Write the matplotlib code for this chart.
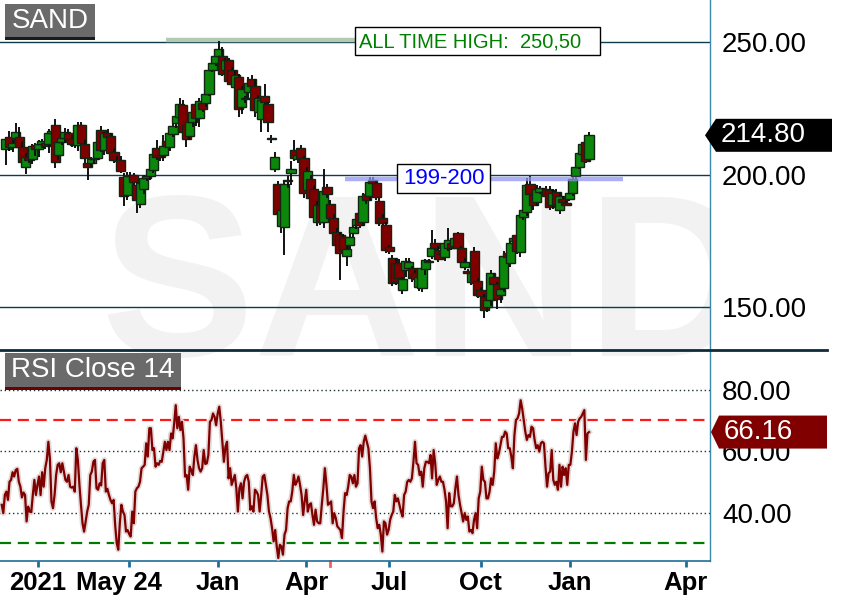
import numpy as np
import matplotlib.pyplot as plt
import matplotlib.patheffects as pe
from matplotlib.patches import Rectangle, Polygon
from matplotlib.lines import Line2D
import matplotlib.transforms as mtransforms

plt.rcParams['font.family'] = ['Liberation Sans', 'DejaVu Sans']

# candle data
opens = [
    209.6, 214.2, 210.4, 213.8, 214.2, 210.4, 202.8, 206.6, 206.0, 211.0,
    209.5, 211.7, 211.9, 211.5, 215.7, 218.7, 207.4, 212.3, 213.8, 215.5,
    213.5, 211.5, 211.1, 218.7, 211.5, 204.3, 204.5, 205.8, 206.2, 216.8,
    209.2, 215.7, 214.5, 208.5, 205.5, 205.5, 199.1, 192.3, 199.5, 200.0,
    196.0, 189.0, 194.5, 198.7, 199.4, 201.7,
    210.0, 207.2, 207.4, 212.6, 210.4, 215.3, 219.4, 221.7, 226.2, 218.7,
    214.5, 219.8, 226.6, 221.3, 227.0, 227.0, 230.4, 239.4, 242.1, 244.7,
    244.7, 239.4, 243.2, 239.4, 233.0, 236.8, 225.5, 228.5, 231.1, 236.0,
    233.4, 223.6, 220.9, 229.6, 226.6, 213.4, 202.1, 196.4, 180.6, 180.2,
    197.5, 200.5,
    209.2, 205.8, 210.0, 206.2, 194.2, 198.3, 194.5, 182.1, 188.5, 182.1,
    195.3, 188.9, 183.6, 178.3, 177.2, 176.4, 169.2, 173.4, 177.9, 180.9,
    185.5, 182.1, 192.6, 191.9, 197.9, 196.8, 190.0, 183.6, 180.9, 172.6,
    168.5, 166.6, 166.6, 156.4, 164.0, 164.7, 164.7, 162.8, 157.5, 157.2,
    164.3, 167.4, 169.2, 174.2, 171.5, 170.0, 168.9, 172.3, 174.2, 173.0,
    177.9, 172.3, 165.1, 163.5, 159.4, 171.1, 159.8, 156.4, 153.8, 150.0,
    152.6, 161.3, 158.7, 154.5, 157.2, 170.4, 166.6, 174.9, 177.2, 170.8,
    184.0, 185.8, 196.4, 192.6, 189.6, 193.4, 193.5, 194.5, 194.2, 188.5,
    193.4, 186.6, 190.8, 189.2, 190.8, 193.0, 199.4, 202.8, 207.7, 212.3,
    205.8,
]
highs = [
    214.0, 216.5, 213.0, 219.5, 218.0, 212.5, 208.0, 208.5, 211.5, 212.0,
    213.0, 213.5, 214.0, 217.0, 218.0, 220.9, 213.0, 214.5, 217.5, 217.0,
    215.0, 213.0, 219.8, 220.0, 213.0, 205.5, 206.5, 207.5, 213.0, 218.5,
    216.0, 217.0, 215.5, 210.0, 207.0, 207.0, 200.5, 201.0, 201.0, 200.5,
    197.0, 197.0, 200.0, 200.5, 203.0, 209.0,
    213.0, 209.0, 214.9, 214.0, 217.0, 219.5, 223.0, 228.9, 228.0, 220.0,
    221.0, 225.0, 227.5, 229.0, 228.0, 231.0, 240.5, 242.5, 245.5, 250.5,
    248.0, 244.0, 244.0, 240.5, 239.0, 238.0, 233.5, 229.5, 236.8, 237.5,
    236.0, 230.0, 229.0, 234.2, 227.5, 215.0, 208.5, 197.5, 188.0, 198.0,
    199.5, 205.0,
    213.0, 208.5, 211.0, 207.0, 203.0, 200.0, 196.0, 190.0, 189.5, 202.0,
    196.5, 190.5, 185.0, 180.0, 178.5, 177.5, 173.0, 177.5, 181.5, 185.0,
    187.0, 193.0, 193.5, 199.2, 199.1, 198.0, 191.0, 185.0, 182.0, 173.5,
    169.5, 168.0, 168.0, 161.5, 168.5, 168.5, 165.5, 164.0, 162.0, 165.5,
    168.0, 168.0, 179.0, 175.5, 173.0, 171.5, 175.0, 179.8, 175.5, 177.5,
    178.5, 173.0, 168.5, 164.5, 164.0, 172.5, 161.0, 157.5, 155.0, 153.5,
    164.0, 163.0, 159.5, 157.5, 171.0, 171.5, 175.0, 176.5, 178.5, 185.5,
    187.5, 198.7, 199.5, 194.0, 196.0, 195.5, 195.0, 195.5, 195.5, 194.5,
    194.5, 193.0, 192.0, 190.0, 194.0, 199.0, 203.5, 208.5, 212.0, 214.5,
    216.0,
]
lows = [
    203.6, 209.0, 208.5, 212.0, 209.5, 204.0, 200.2, 204.5, 204.0, 207.0,
    206.5, 210.0, 209.5, 208.0, 213.5, 202.5, 205.5, 211.0, 212.0, 212.0,
    210.5, 210.0, 209.0, 210.5, 204.5, 197.9, 203.0, 204.0, 205.5, 208.5,
    207.5, 212.0, 207.5, 204.5, 203.5, 200.5, 188.0, 190.5, 197.5, 195.0,
    185.5, 187.5, 192.5, 197.5, 198.0, 200.5,
    205.5, 205.0, 205.0, 210.0, 209.0, 214.0, 217.5, 220.5, 214.5, 210.4,
    213.0, 218.0, 218.5, 218.0, 223.5, 225.5, 229.5, 238.5, 241.0, 243.5,
    237.0, 238.0, 234.0, 233.0, 230.5, 221.7, 223.0, 227.0, 229.0, 230.0,
    221.7, 222.0, 216.0, 226.0, 216.0, 211.9, 201.0, 182.0, 178.0, 169.6,
    195.0, 196.0,
    205.0, 204.5, 205.5, 191.0, 192.5, 189.5, 182.5, 180.5, 181.0, 180.0,
    191.0, 182.5, 177.0, 172.0, 160.2, 170.5, 165.5, 172.0, 176.5, 179.5,
    180.0, 180.5, 189.0, 190.5, 196.0, 190.5, 180.5, 180.0, 170.5, 170.0,
    158.0, 158.5, 159.5, 155.0, 161.5, 163.0, 159.5, 159.0, 156.0, 155.5,
    162.0, 166.5, 168.0, 171.5, 167.0, 169.0, 167.5, 171.0, 171.5, 172.0,
    171.5, 166.0, 164.0, 161.5, 158.5, 158.5, 153.5, 153.5, 146.0, 148.0,
    150.5, 157.5, 149.2, 151.5, 155.5, 168.0, 165.0, 173.5, 170.0, 169.0,
    183.0, 184.5, 191.5, 186.5, 188.0, 192.5, 192.0, 190.5, 186.5, 187.0,
    188.0, 185.0, 188.5, 188.0, 190.0, 192.0, 198.5, 202.0, 207.0, 204.5,
    205.0,
]
closes = [
    213.4, 210.4, 212.0, 216.2, 210.4, 204.7, 206.6, 205.5, 210.8, 209.5,
    211.7, 212.5, 210.8, 215.7, 216.5, 204.7, 212.3, 213.8, 216.0, 213.4,
    211.5, 211.1, 218.7, 211.9, 206.2, 202.8, 205.8, 206.2, 212.3, 209.2,
    215.7, 214.0, 208.1, 205.5, 205.0, 201.3, 191.9, 199.5, 200.0, 197.2,
    190.4, 196.8, 198.7, 199.4, 202.1, 207.7,
    206.6, 206.6, 210.8, 210.8, 215.7, 218.3, 222.1, 226.6, 216.0, 213.4,
    219.8, 223.6, 221.3, 227.7, 224.7, 230.2, 239.4, 242.1, 244.7, 247.4,
    237.9, 243.2, 235.3, 234.2, 237.5, 224.7, 232.3, 228.7, 234.5, 233.4,
    224.3, 228.9, 228.1, 227.4, 219.8, 213.8, 206.6, 185.1, 186.6, 196.4,
    197.9, 202.0,
    206.2, 207.4, 206.2, 193.0, 201.3, 191.1, 184.0, 188.5, 182.1, 193.8,
    192.6, 183.6, 177.9, 173.4, 170.4, 171.5, 171.9, 176.4, 180.2, 183.2,
    180.9, 191.9, 190.4, 197.2, 196.8, 191.5, 181.7, 181.7, 171.5, 171.1,
    159.1, 159.4, 160.9, 160.6, 167.4, 167.0, 160.9, 160.6, 161.3, 164.7,
    167.7, 167.0, 172.3, 172.3, 168.1, 170.4, 174.2, 175.3, 172.3, 176.0,
    172.3, 167.0, 167.0, 162.8, 162.8, 159.1, 154.5, 154.2, 148.9, 152.6,
    162.8, 158.7, 153.0, 156.8, 169.2, 168.9, 174.2, 176.0, 171.1, 184.7,
    186.6, 196.0, 192.6, 188.5, 194.5, 194.9, 193.0, 191.9, 187.7, 193.0,
    188.9, 191.9, 189.6, 188.5, 193.0, 198.3, 202.8, 208.1, 211.5, 205.1,
    214.8,
]

# RSI(14) values, left to right
rsi = [
    42.5, 39.8, 45.7, 46.8, 44.1, 50, 50.6, 53.1, 51.7, 53.8, 54.2, 50, 48.4, 44.9, 46.5,
    45.7, 37.1, 41.9, 40.3, 40.1, 45.7, 50.6, 45.7, 49, 51.7, 45.7, 53.1, 48.4, 54.4, 57.1,
    63, 57.6, 43.6, 41.4, 45.7, 52.2, 55.5, 56, 53.1, 56, 53.3, 50.6, 50, 52.2, 48.4,
    48.1, 48.4, 46.8, 60.9, 57.1, 49, 42.5, 36.5, 33.8, 37.1, 40.3, 42.5, 52.2, 53.3, 56.5,
    57.1, 47.9, 47.4, 49.5, 48.8, 56, 57.1, 46.8, 47.7, 45.7, 44.1, 43, 44.1, 36, 30.1,
    27.9, 36.5, 42.5, 40.3, 39.2, 33.8, 34.3, 33, 32.2, 40.3, 36.5, 46.8, 47.9, 48.4, 50,
    54.4, 54.9, 55.5, 62.5, 58.2, 67.4, 67.4, 60.3, 60.9, 54.9, 56, 55.5, 56.8, 56.5, 59.8,
    63, 60.3, 63, 60.3, 65.7, 64.1, 69, 74.9, 67.4, 71.1, 66.8, 69.5, 64.1, 51.7, 52.2,
    47.4, 54.9, 53.8, 52.2, 58.2, 61.9, 57.1, 54.4,
    53.3, 54.4, 60.3, 55.8, 56, 58.7, 69.5, 70.1, 72.2, 71.1, 68.4, 72.2, 74.4, 69.5, 63,
    56.5, 61.4, 63, 51.1, 54.4, 49, 50.6, 52.2, 47.9, 40.3, 47.9, 49.5, 44.6, 50, 51.7,
    52.2, 50, 40.9, 42, 40.3, 47.4, 46.8, 45.7, 40.3, 45.7, 51.7, 52.2, 49, 45.7, 40.3,
    38.2, 34.9, 30.6, 34.3, 29, 25.2, 29.5, 29, 26.3, 32.8, 34.3, 41.4, 43.6, 43.6, 46.8,
    52.2, 49, 50, 51.7, 49, 45.7, 39.2, 43.6, 47.4, 40.3, 42.5, 43, 39.2, 36, 40.9,
    37.1, 36.5, 36.5, 42.5, 47.9, 54.4, 49, 42.5, 43, 43.6, 36.5, 39.8, 38.2, 35.5, 34.9,
    34.3, 31.7, 40.3, 46.3, 45.7, 48.4, 52.2, 51.7, 49.5, 52.2, 48.4, 49.5, 60.9, 61.9, 58.2,
    63, 65, 63, 60.9, 54.4, 43.6, 41.4, 43.6, 38.2, 34.9, 36, 32.8, 27.3, 37.1, 36.5,
    32.8, 34.3, 37.6, 39.2, 40.3, 45.7, 43.6, 44.6,
    42.5, 40.3, 38.7, 45.7, 46.8, 50, 50.6, 50, 51.1, 56.5, 63, 56, 55.5, 52.2, 53.3,
    48.4, 54.4, 56.5, 56.5, 56, 58.7, 51.1, 60.3, 56, 49, 50.6, 51.7, 50, 50, 47.4,
    43.6, 34.9, 46.3, 42, 42, 43, 47.9, 51.7, 45.7, 42.5, 39.8, 37.1, 39.8, 37.6, 38.7,
    33.8, 34.3, 33.3, 37.6, 39.8, 34.9, 44.6, 46.8, 54.9, 50.6, 50, 44.6, 44.6, 46.8, 51.1,
    49, 53.3, 62.5, 57.6, 59.2, 61.9, 64.6, 64.6, 66.3, 65.7, 60.9, 60.9, 58.2, 54.4, 65.2,
    70.1, 70.6, 72.2, 76.5, 73.8, 70.1, 66.3, 63.6, 65.2, 64.6, 67.9, 67.4, 63.6, 60.9, 61.9,
    59.8, 62.5, 63, 62.5, 54.9, 48.4, 52.8, 53.3, 60.3, 50.6, 49, 50, 47.4, 55.5, 48.4,
    54.9, 52.2, 54.4, 49, 55.5, 55.5, 59.8, 66.3, 69, 65.2, 69.5, 70.6, 71.1, 72.2, 73.3,
    57.1, 65.7, 66.16,
]

price_ticks = [150, 200, 250]
rsi_ticks = [40, 60, 80]
x_tick_pos = [9.8, 37.6, 64.7, 91.6, 116.9, 145.0, 172.2, 207.6]
x_tick_labels = ['2021', 'May 24   ', 'Jan', 'Apr', 'Jul', 'Oct', 'Jan', 'Apr']
marker_tick = 98.9
ath_value = 250.50
ath_span = (48.9, 106.6)
zone_level = 198.4
zone_span = (103.5, 188.4)

W, H = 847, 604
fig = plt.figure(figsize=(W / 100, H / 100), dpi=100)
fig.patch.set_facecolor('white')


def fx(px):
    return px / W


def fy(py):
    return 1 - py / H


ax_p = fig.add_axes([0, fy(350), fx(710), 350 / H])
ax_r = fig.add_axes([0, fy(561), fx(710), 211 / H])

n = len(opens)
unit = 583 / (n - 1)
for ax in (ax_p, ax_r):
    ax.set_facecolor('none')
    ax.set_xlim(-6 / unit, 704 / unit)
    for s in ('top', 'left', 'bottom'):
        ax.spines[s].set_visible(False)
    ax.spines['right'].set_color('#3b87ad')
    ax.spines['right'].set_linewidth(1)
    ax.yaxis.tick_right()
    ax.tick_params(axis='y', length=0, pad=8.6, labelsize=20, labelcolor='black')

ax_p.set_ylim(133.8, 265.85)
ax_r.set_ylim(24.23, 92.85)

# watermark
wm = fig.text(fx(100), fy(356), 'SAND', fontsize=166, fontweight='bold',
              color='#f2f2f2', ha='left', va='baseline', zorder=-1)
wm.set_clip_path(Rectangle((0, 0), fx(710), 1, transform=fig.transFigure))

# price panel
for v in price_ticks:
    ax_p.axhline(v, color='#0c3d4d', lw=1, zorder=1)
ax_p.set_yticks(price_ticks)
ax_p.set_yticklabels([f'{v:.2f}' for v in price_ticks])
ax_p.set_xticks([])

ax_p.plot(ath_span, [250.8, 250.8], color='#b2c9b2', lw=3.2, solid_capstyle='butt', zorder=2)

body_w = 2.8
for i in range(n):
    o, h, l, c = opens[i], highs[i], lows[i], closes[i]
    col = '#0b870b' if c >= o else '#800000'
    z = 3 + i * 0.01
    ax_p.plot([i, i], [l, h], color='#111111', lw=1.4, zorder=z, solid_capstyle='butt')
    ax_p.add_patch(Rectangle((i - body_w / 2, min(o, c)), body_w, max(abs(c - o), 0.5),
                             facecolor=col, edgecolor='#142414', lw=1.0, zorder=z + 0.005))

ax_p.plot(zone_span, [zone_level, zone_level], color='#8f95f2', lw=3.2, alpha=0.75,
          solid_capstyle='butt', zorder=6)

# RSI panel
for v in rsi_ticks:
    ax_r.axhline(v, color='#203030', lw=1, linestyle=(0, (1, 2)), zorder=1)
ax_r.axhline(70, color='#ff1a1a', lw=1.6, linestyle=(0, (5, 3)), zorder=2)
ax_r.axhline(30, color='#007a00', lw=1.6, linestyle=(0, (5, 3)), zorder=2)
rsi_x = np.linspace(-1.3, n - 1, len(rsi))
ax_r.plot(rsi_x, rsi, color='#800000', lw=1.6, zorder=4,
          path_effects=[pe.Stroke(linewidth=4, foreground='#e3d8d8'), pe.Normal()])
ax_r.set_yticks(rsi_ticks)
ax_r.set_yticklabels([f'{v:.2f}' for v in rsi_ticks])
ax_r.spines['bottom'].set_visible(True)
ax_r.spines['bottom'].set_color('#1f6e96')
ax_r.spines['bottom'].set_linewidth(1.2)
ax_r.set_xticks(x_tick_pos)
ax_r.set_xticklabels(x_tick_labels, fontsize=18.5, fontweight='bold')
ax_r.tick_params(axis='x', direction='out', length=4, width=2, color='#1f6e96', pad=3)
blend = mtransforms.blended_transform_factory(ax_r.transData, ax_r.transAxes)
ax_r.plot([marker_tick, marker_tick], [-0.024, 0], transform=blend, color='#ff5a5a',
          lw=2, clip_on=False)

# panel separator
fig.add_artist(Line2D([0, fx(827)], [fy(350), fy(350)], transform=fig.transFigure,
                      color='#0e2b3b', lw=2))


def px_rect(x0, y0, x1, y1, **kw):
    fig.add_artist(Rectangle((fx(x0), fy(y1)), fx(x1) - fx(x0), fy(y0) - fy(y1),
                             transform=fig.transFigure, **kw))


# panel titles
px_rect(5, 4, 95, 37, facecolor='#6a6a6a', edgecolor='none')
px_rect(5, 37, 95, 40, facecolor='#1a1a1a', edgecolor='none')
fig.text(fx(50), fy(21), 'SAND', color='white', fontsize=20, ha='center', va='center')
px_rect(5, 353, 181, 387, facecolor='#6a6a6a', edgecolor='none')
px_rect(5, 387, 181, 390, facecolor='#6b0000', edgecolor='none')
fig.text(fx(93), fy(370), 'RSI Close 14', color='white', fontsize=20, ha='center', va='center')

# annotations
px_rect(355, 27, 600, 55, facecolor='white', edgecolor='black', lw=1)
fig.text(fx(359), fy(41.5), f'ALL TIME HIGH:  {ath_value:.2f}'.replace('.', ','),
         color='#008000', fontsize=14.5, ha='left', va='center')
px_rect(397, 164, 490, 193, facecolor='white', edgecolor='black', lw=1)
fig.text(fx(443.5), fy(178.5), '199-200', color='#0000ff', fontsize=16, ha='center', va='center')


def value_tag(ax, value, text, color, x_tip, x_left, x_right):
    yc = H - ax.transData.transform((0, value))[1]
    pts = [(x_tip, yc), (x_left, yc - 16.5), (x_right, yc - 16.5),
           (x_right, yc + 16.5), (x_left, yc + 16.5)]
    fig.add_artist(Polygon([(fx(a), fy(b)) for a, b in pts], closed=True,
                           transform=fig.transFigure, facecolor=color, edgecolor='none'))
    fig.text(fx(x_left + 5), fy(yc), text, color='white', fontsize=20, ha='left', va='center')


value_tag(ax_p, closes[-1], f'{closes[-1]:.2f}', 'black', 705, 716, 832)
value_tag(ax_r, rsi[-1], f'{rsi[-1]:.2f}', '#800000', 711, 719, 827)

fig.savefig('out.png', dpi=100)
